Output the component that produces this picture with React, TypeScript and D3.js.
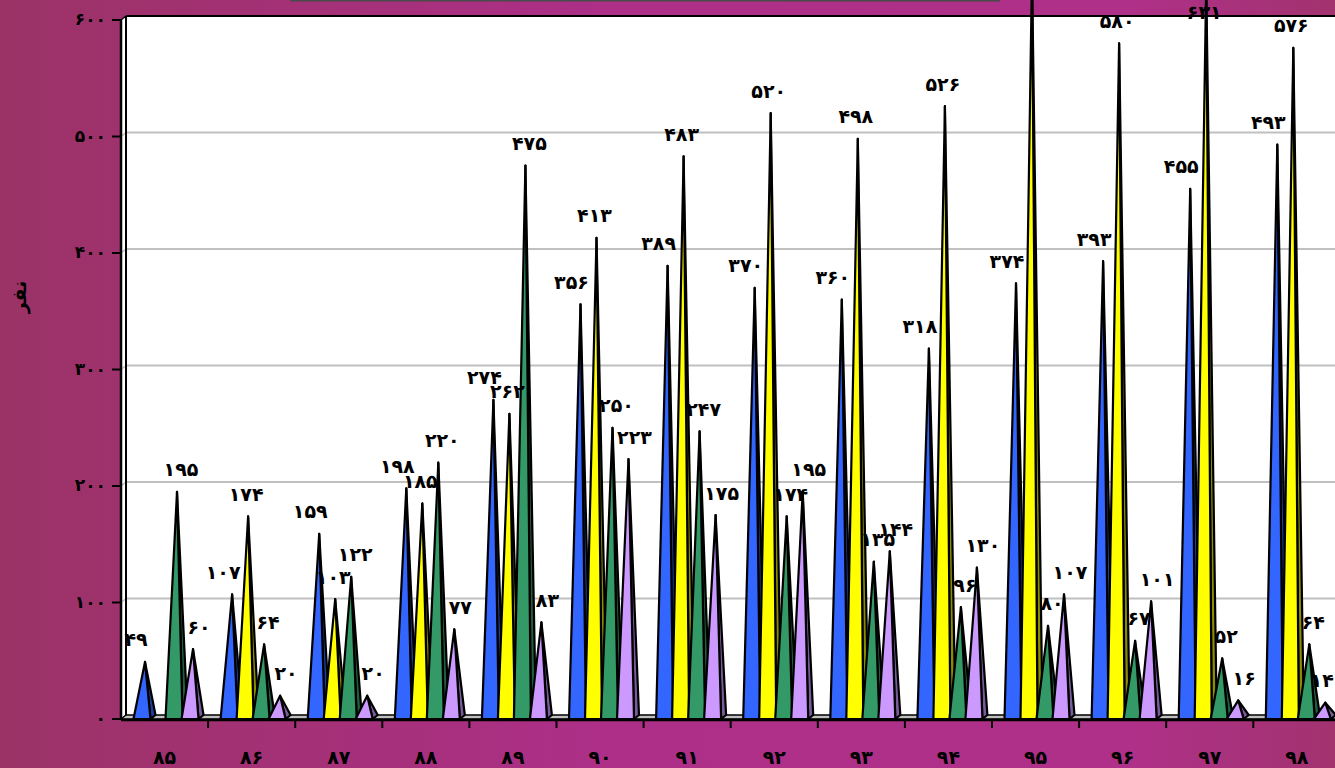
import React from "react";
import * as d3 from "d3";

const categories = ["۸۵", "۸۶", "۸۷", "۸۸", "۸۹", "۹۰", "۹۱", "۹۲", "۹۳", "۹۴", "۹۵", "۹۶", "۹۷", "۹۸"];
const seriesNames = ["s1", "s2", "s3", "s4"];
const blueValues = [49, 107, 159, 198, 274, 356, 389, 370, 360, 318, 374, 393, 455, 493];
const yellowValues = [0, 174, 103, 185, 262, 413, 483, 520, 498, 526, 640, 580, 631, 576];
const greenValues = [195, 64, 122, 220, 475, 250, 247, 174, 135, 96, 80, 67, 52, 64];
const lavenderValues = [60, 20, 20, 77, 83, 223, 175, 195, 144, 130, 107, 101, 16, 14];
const hiddenLabels = [[1, 10]]; // [series, category] whose label is not shown
const yTicks = [0, 100, 200, 300, 400, 500, 600];
const yTitle = "نفر";

const faDigits = (n: number) => String(n).replace(/\d/g, (d) => "۰۱۲۳۴۵۶۷۸۹"[+d]);

const seriesStyle = [
  { front: "#3366FF", side: "#1f3f9c", ldx: -9 },
  { front: "#FFFF00", side: "#8c8c00", ldx: -2 },
  { front: "#339966", side: "#1f5e3e", ldx: 4 },
  { front: "#CC99FF", side: "#7a5c9c", ldx: 6 },
];

export default function App() {
  const W = 1335, H = 768;
  const x0Left = 121;
  const bandW = 87.1;
  const depthX = 5, depthY = 4;
  const y = d3.scaleLinear().domain([0, 600]).range([719, 20]);
  const x0 = d3.scaleBand().domain(categories).range([x0Left, x0Left + bandW * categories.length]).padding(0);
  const x1 = d3.scaleBand().domain(seriesNames).range([13, 77]).padding(0);
  const allSeries = [blueValues, yellowValues, greenValues, lavenderValues];
  const base = y(0);
  const halfW = 8.5;
  const labelSize = 19;

  const pyramids: JSX.Element[] = [];
  const labels: JSX.Element[] = [];
  categories.forEach((cat, ci) => {
    allSeries.forEach((vals, si) => {
      const v = vals[ci];
      if (!v) return;
      const cx = (x0(cat) as number) + (x1(seriesNames[si]) as number) + x1.bandwidth() / 2;
      const top = y(v);
      const ax = cx + 3;
      const st = seriesStyle[si];
      const fl = [cx - halfW, base], fr = [cx + halfW, base], br = [cx + halfW + depthX, base - depthY];
      const apex = [ax, top];
      pyramids.push(
        <g key={`p-${ci}-${si}`}>
          <path d={`M${fr[0]},${fr[1]}L${br[0]},${br[1]}L${apex[0]},${apex[1]}Z`} fill={st.side} stroke="#000" strokeWidth={2.2} strokeLinejoin="round" />
          <path d={`M${fl[0]},${fl[1]}L${fr[0]},${fr[1]}L${apex[0]},${apex[1]}Z`} fill={st.front} stroke="#000" strokeWidth={2.2} strokeLinejoin="round" />
        </g>
      );
      const hidden = hiddenLabels.some(([s, c]) => s === si && c === ci);
      if (!hidden) {
        const txt = faDigits(v);
        const halfTxt = (txt.length * labelSize * 0.62) / 2;
        const lx = Math.min(W - halfTxt - 1, ax + st.ldx);
        const ly = Math.max(13, top - 21);
        labels.push(
          <text key={`l-${ci}-${si}`} x={lx} y={ly} textAnchor="middle" dominantBaseline="middle"
            fontFamily="DejaVu Sans" fontWeight="bold" fontSize={labelSize} fill="#000">{txt}</text>
        );
      }
    });
  });

  const wallLeft = x0Left + depthX;
  const wallTop = y(600) - depthY;
  const wallBottom = base - depthY;

  return (
    <svg width={W} height={H} style={{ position: "absolute", left: 0, top: 0 }} fontFamily="DejaVu Sans">
      <defs>
        <linearGradient id="bg" x1="0" y1="0" x2="1" y2="0">
          <stop offset="0%" stopColor="#9b3366" />
          <stop offset="45%" stopColor="#ad2f88" />
          <stop offset="85%" stopColor="#ae3088" />
          <stop offset="100%" stopColor="#a2336f" />
        </linearGradient>
      </defs>
      <rect x={0} y={0} width={W} height={H} fill="url(#bg)" />
      <line x1={290} x2={1000} y1={0.5} y2={0.5} stroke="#4a4a4a" strokeWidth={2} />
      <rect x={wallLeft} y={wallTop} width={W - wallLeft} height={wallBottom - wallTop} fill="#fff" />
      <path d={`M${x0Left},${y(600)}L${wallLeft},${wallTop}L${wallLeft},${wallBottom}L${x0Left},${base}Z`} fill="#fff" />
      {yTicks.filter((t) => t > 0 && t < 600).map((t) => (
        <g key={`g${t}`}>
          <line x1={wallLeft} x2={W} y1={y(t) - depthY} y2={y(t) - depthY} stroke="#c0c0c0" strokeWidth={2} />
          <line x1={x0Left} x2={wallLeft} y1={y(t)} y2={y(t) - depthY} stroke="#c0c0c0" strokeWidth={1.5} />
        </g>
      ))}
      <path d={`M${x0Left},${base}L${wallLeft},${wallBottom}L${W + 5},${wallBottom}L${W + 5},${base}Z`} fill="#c0c0c0" stroke="#000" strokeWidth={1.5} />
      <line x1={wallLeft} x2={wallLeft} y1={wallTop} y2={wallBottom} stroke="#000" strokeWidth={2} />
      <line x1={wallLeft} x2={W} y1={wallTop} y2={wallTop} stroke="#000" strokeWidth={2} />
      <line x1={x0Left} x2={wallLeft} y1={y(600)} y2={wallTop} stroke="#000" strokeWidth={1.5} />
      <line x1={x0Left} x2={x0Left} y1={y(600)} y2={base + 1} stroke="#000" strokeWidth={2.5} />
      {pyramids}
      <line x1={x0Left} x2={W} y1={base + 1} y2={base + 1} stroke="#000" strokeWidth={2.5} />
      {yTicks.map((t) => (
        <g key={`yt${t}`}>
          <line x1={112} x2={x0Left} y1={y(t)} y2={y(t)} stroke="#000" strokeWidth={2} />
          <text x={106} y={y(t)} textAnchor="end" dominantBaseline="middle" fontWeight="bold" fontSize={17} fill="#000">{faDigits(t)}</text>
        </g>
      ))}
      {categories.map((c, i) => (
        <g key={`xt${i}`}>
          <line x1={(x0(c) as number) + bandW} x2={(x0(c) as number) + bandW} y1={base} y2={base + 9} stroke="#000" strokeWidth={2} />
          <text x={(x0(c) as number) + bandW / 2} y={758} textAnchor="middle" dominantBaseline="middle" fontWeight="bold" fontSize={19} fill="#000">{c}</text>
        </g>
      ))}
      {labels}
      <text transform={`translate(20,297) rotate(-90)`} textAnchor="middle" dominantBaseline="middle" fontWeight="bold" fontSize={19} fill="#000">{yTitle}</text>
    </svg>
  );
}
